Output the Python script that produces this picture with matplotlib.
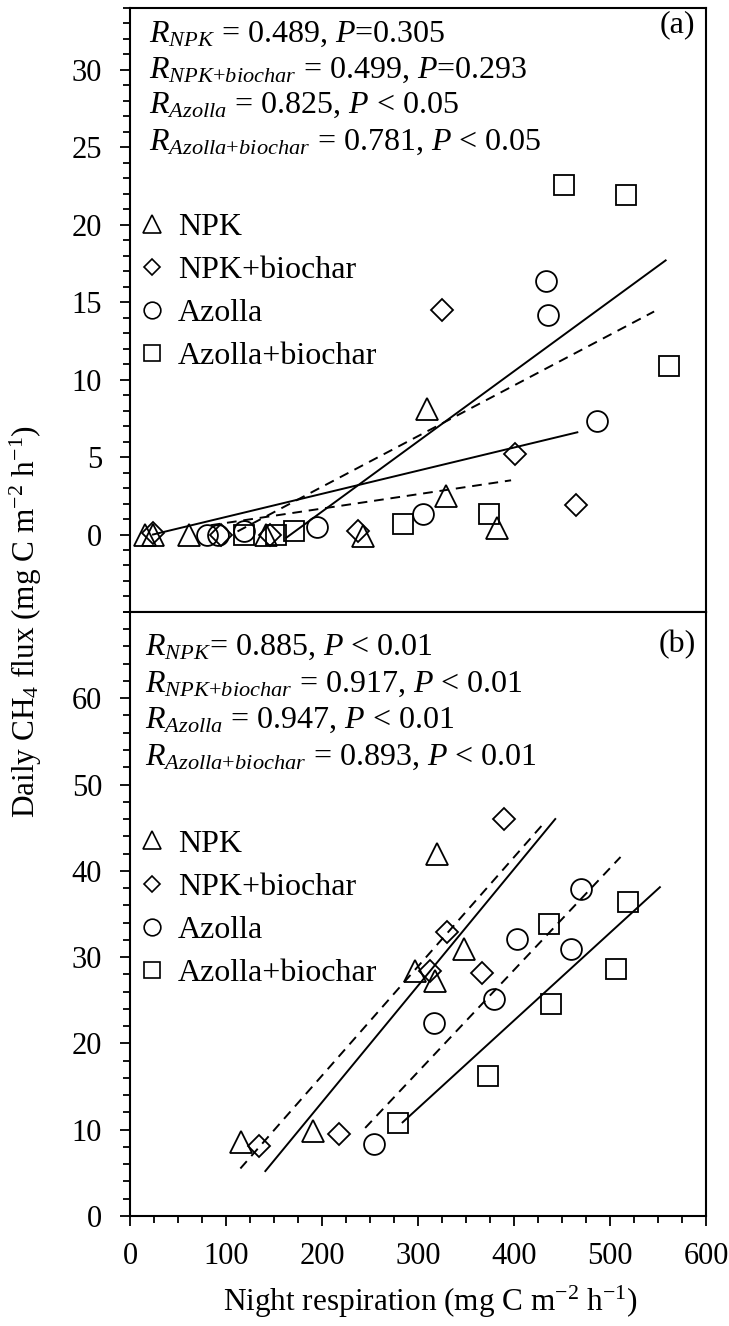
import numpy as np
import matplotlib
matplotlib.use("Agg")
import matplotlib.pyplot as plt
from matplotlib.lines import Line2D
from matplotlib.ticker import MultipleLocator

plt.rcParams['font.family'] = ['Liberation Serif', 'DejaVu Serif']
plt.rcParams['mathtext.fontset'] = 'custom'
plt.rcParams['mathtext.rm'] = 'Liberation Serif'
plt.rcParams['mathtext.it'] = 'Liberation Serif:italic'
plt.rcParams['mathtext.bf'] = 'Liberation Serif:bold'

# --- Panel (a) data: night respiration vs daily CH4 flux ---
a_npk_x = [16, 24, 61, 142, 243, 309, 329, 382]
a_npk_y = [0.0, 0.0, 0.0, 0.0, -0.1, 8.1, 2.5, 0.4]
a_npkb_x = [24, 95, 146, 238, 325, 401, 465]
a_npkb_y = [0.1, 0.0, 0.0, 0.2, 14.5, 5.2, 1.9]
a_az_x = [80, 92, 119, 195, 305, 433, 435, 486]
a_az_y = [0.0, 0.0, 0.2, 0.5, 1.3, 16.4, 14.2, 7.3]
a_azb_x = [119, 152, 171, 284, 374, 452, 517, 561]
a_azb_y = [0.0, 0.0, 0.2, 0.65, 1.3, 22.6, 21.9, 10.9]

# regression lines (x start, x end, y start, y end)
a_fit_x0 = [24, 112, 84, 163]
a_fit_x1 = [466, 546, 397, 558]
a_fit_y0 = [0.0, 0.2, 0.6, -0.2]
a_fit_y1 = [6.6, 14.4, 3.5, 17.7]
a_fit_style = ['-', '--', '--', '-']

a_stats = [r"$R_{NPK}$ = 0.489, $P$=0.305",
           r"$R_{NPK{+}biochar}$ = 0.499, $P$=0.293",
           r"$R_{Azolla}$ = 0.825, $P$ < 0.05",
           r"$R_{Azolla{+}biochar}$ = 0.781, $P$ < 0.05"]

# --- Panel (b) data ---
b_npk_x = [116, 191, 297, 318, 348, 320]
b_npk_y = [8.6, 9.8, 28.4, 27.2, 30.9, 42.0]
b_npkb_x = [134, 218, 313, 367, 330, 390]
b_npkb_y = [8.1, 9.5, 28.4, 28.1, 32.9, 46.0]
b_az_x = [254, 317, 379, 403, 459, 470]
b_az_y = [8.3, 22.4, 25.1, 32.1, 30.9, 37.9]
b_azb_x = [279, 373, 439, 437, 506, 519]
b_azb_y = [10.8, 16.2, 24.6, 33.8, 28.6, 36.4]

b_fit_x0 = [141, 115, 245, 284]
b_fit_x1 = [443, 431, 511, 552]
b_fit_y0 = [5.2, 5.5, 10.2, 10.85]
b_fit_y1 = [46.0, 45.5, 41.6, 38.1]
b_fit_style = ['-', '--', '--', '-']

b_stats = [r"$R_{NPK}$= 0.885, $P$ < 0.01",
           r"$R_{NPK{+}biochar}$ = 0.917, $P$ < 0.01",
           r"$R_{Azolla}$ = 0.947, $P$ < 0.01",
           r"$R_{Azolla{+}biochar}$ = 0.893, $P$ < 0.01"]

labels = ['NPK', 'NPK+biochar', 'Azolla', 'Azolla+biochar']
markers = ['^', 'D', 'o', 's']
msizes = [15.5, 10.8, 15, 15]

fig = plt.figure(figsize=(7.29, 13.26), dpi=100)
ax_a = fig.add_axes([0.1783, 0.5385, 0.7901, 0.4555])
ax_b = fig.add_axes([0.1783, 0.0830, 0.7901, 0.4555])

def draw_panel(ax, series, fits, stats, tag, ylim, ymajor, yminor, stat_y, stat_x, tag_y, leg_y):
    for (xs, ys), m, ms in zip(series, markers, msizes):
        ax.plot(xs, ys, ls='none', marker=m, ms=ms, mfc='none', mec='black', mew=1.3)
    x0, x1, y0, y1, st = fits
    for i in range(len(x0)):
        ax.plot([x0[i], x1[i]], [y0[i], y1[i]], color='black', ls=st[i], lw=1.4,
                dashes=(5, 3.5) if st[i] == '--' else (None, None))
    for s, yy in zip(stats, stat_y):
        ax.text(stat_x, yy, s, transform=ax.transAxes, fontsize=23, va='baseline', ha='left')
    ax.text(0.982, tag_y, tag, transform=ax.transAxes, fontsize=23, va='baseline', ha='right')

    handles = [Line2D([], [], ls='none', marker=m, ms=ms * 0.8, mfc='none', mec='black', mew=1.2)
               for m, ms in zip(markers, msizes)]
    ax.legend(handles, labels, loc='upper left', bbox_to_anchor=(0.0, leg_y), frameon=False,
              fontsize=23, handlelength=0.8, handletextpad=0.4, labelspacing=0.43,
              borderpad=0.0, borderaxespad=0.3)

    ax.set_xlim(0, 600)
    ax.set_ylim(*ylim)
    ax.yaxis.set_major_locator(MultipleLocator(ymajor))
    ax.yaxis.set_minor_locator(MultipleLocator(yminor))
    ax.xaxis.set_major_locator(MultipleLocator(100))
    ax.xaxis.set_minor_locator(MultipleLocator(25))
    ax.tick_params(which='major', direction='out', length=7, width=1.3, labelsize=22)
    ax.tick_params(which='minor', direction='out', length=5, width=1.3)
    ax.tick_params(axis='y', pad=13)
    ax.tick_params(axis='x', pad=12)
    for sp in ax.spines.values():
        sp.set_linewidth(1.5)

draw_panel(ax_a,
           [(a_npk_x, a_npk_y), (a_npkb_x, a_npkb_y), (a_az_x, a_az_y), (a_azb_x, a_azb_y)],
           (a_fit_x0, a_fit_x1, a_fit_y0, a_fit_y1, a_fit_style),
           a_stats, '(a)', (-5, 34), 5, 1,
           [0.944, 0.884, 0.826, 0.765], 0.033, 0.960, 0.6775)
ax_a.set_yticks([0, 5, 10, 15, 20, 25, 30])
ax_a.tick_params(axis='x', labelbottom=False)

draw_panel(ax_b,
           [(b_npk_x, b_npk_y), (b_npkb_x, b_npkb_y), (b_az_x, b_az_y), (b_azb_x, b_azb_y)],
           (b_fit_x0, b_fit_x1, b_fit_y0, b_fit_y1, b_fit_style),
           b_stats, '(b)', (0, 70), 10, 2,
           [0.929, 0.868, 0.808, 0.747], 0.026, 0.934, 0.656)
ax_b.set_yticks([0, 10, 20, 30, 40, 50, 60])

fig.text(0.036, 0.531, r"Daily CH$_4$ flux (mg C m$^{\mathrm{-2}}$ h$^{\mathrm{-1}}$)",
         rotation=90, fontsize=22.5, ha='center', va='center')
fig.text(0.591, 0.018, r"Night respiration (mg C m$^{\mathrm{-2}}$ h$^{\mathrm{-1}}$)",
         fontsize=22.5, ha='center', va='center')

fig.savefig('out.png', dpi=100)
